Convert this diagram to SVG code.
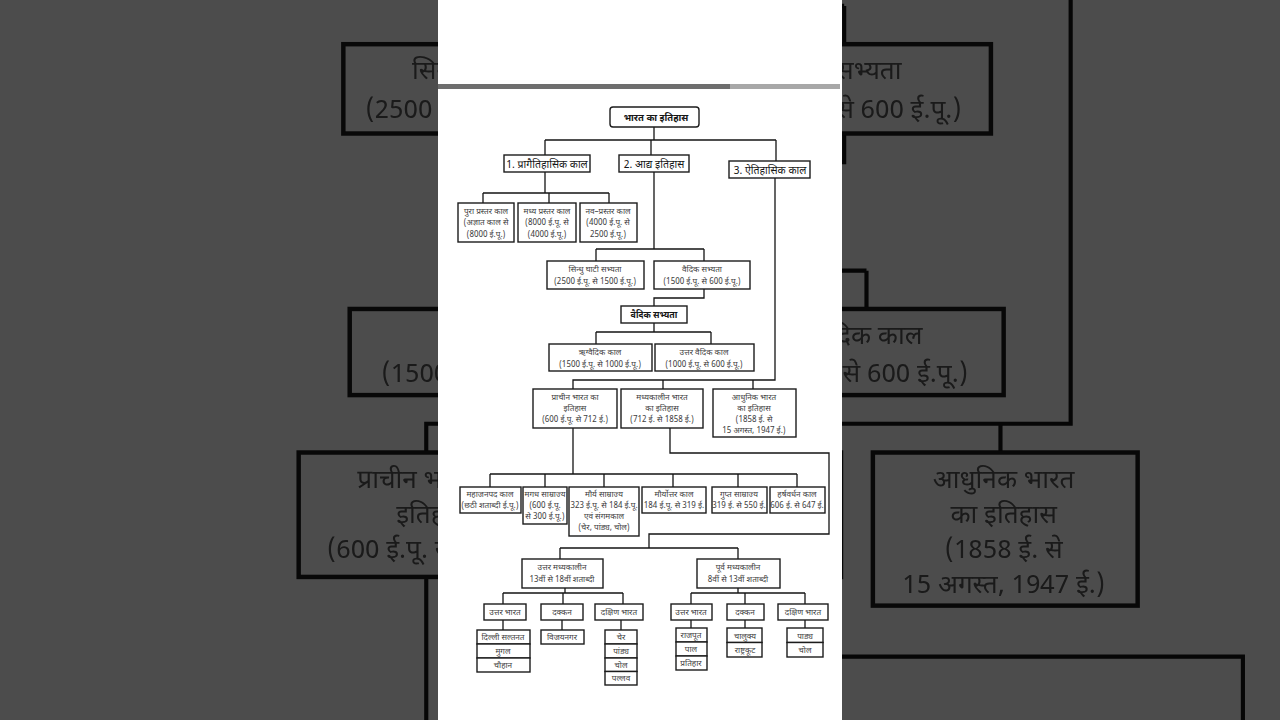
<svg xmlns="http://www.w3.org/2000/svg" xmlns:xlink="http://www.w3.org/1999/xlink" width="1280" height="720" viewBox="0 0 1280 720">
<defs>
<style>
.b{fill:#fff;stroke:#1c1c1c;stroke-width:1.4}
.c{fill:none;stroke:#141414;stroke-width:1.3}
text{font-family:"Noto Sans Devanagari","Noto Sans","Lohit Devanagari","FreeSans",sans-serif;text-anchor:middle;fill:var(--tc,#3e3e3e);font-size:8.2px}
.h{font-size:10.5px;fill:var(--hc,#161616)}
.r{font-size:9.5px;font-weight:bold;fill:var(--hc,#161616)}
.m{font-size:8.8px;font-weight:bold;fill:var(--hc,#161616)}
</style>
<filter id="blur" x="-5%" y="-5%" width="110%" height="110%"><feGaussianBlur stdDeviation="0.25"/></filter>
</defs>
<rect x="0" y="0" width="1280" height="720" fill="#fff"/>
<g id="bg">
<use xlink:href="#diagram" href="#diagram" transform="matrix(3.19,0,0,3.19,-1401.6,-788.4)" filter="url(#blur)" style="--tc:#585858;--hc:#3a3a3a"/>
<rect x="0" y="0" width="1280" height="720" fill="#000" opacity="0.7"/>
</g>
<rect x="438" y="0" width="404" height="720" fill="#fff"/>
<rect x="438" y="84" width="292" height="5" fill="#6e6e6e"/>
<rect x="730" y="84" width="110" height="5" fill="#a8a8a8"/>
<g id="diagram">
<g id="connectors">
<path class="c" d="M654,127V140M545,140H776M545,140V155M651,140V155M776,140V161"/>
<path class="c" d="M545,172V193M483,193H609M483,193V203M549,193V203M609,193V203"/>
<path class="c" d="M654,172V249M596,249H704M596,249V261M704,249V261"/>
<path class="c" d="M704,289V298H654V306"/>
<path class="c" d="M654,323V332M596,332H711M596,332V344M711,332V344"/>
<path class="c" d="M775,178V380H573V389M663,380V389M753,380V389"/>
<path class="c" d="M573,428V474M490,474H797M490,474V487M545,474V487M604,474V487M673,474V487M738,474V487M797,474V487"/>
<path class="c" d="M670,428V453H829V534H649V548M560,548H738M560,548V559M738,548V559"/>
<path class="c" d="M565,588V593M503,593H623M503,593V604M563,593V604M623,593V604M503,620V630M562,620V630M621,620V630"/>
<path class="c" d="M738,588V593M691,593H805M691,593V604M745,593V604M805,593V604M691,620V628M745,620V628M805,620V628"/>
</g>
<g id="root"><rect class="b" x="610" y="107" width="89" height="20" rx="3"/><text class="r" x="656" y="121">भारत का इतिहास</text></g>
<g id="n1"><rect class="b" x="504" y="155" width="86" height="17"/><text class="h" x="547" y="167.5">1. प्रागैतिहासिक काल</text></g>
<g id="n2"><rect class="b" x="619" y="155" width="70" height="17"/><text class="h" x="654" y="167.5">2. आद्य इतिहास</text></g>
<g id="n3"><rect class="b" x="729" y="161" width="81" height="17"/><text class="h" x="770" y="173.5">3. ऐतिहासिक काल</text></g>
<g id="p1"><rect class="b" x="458" y="203" width="56" height="39"/><text x="486" y="214">पुरा प्रस्तर काल</text><text x="486" y="225">(अज्ञात काल से</text><text x="486" y="237">(8000 ई.पू.)</text></g>
<g id="p2"><rect class="b" x="518" y="203" width="58" height="39"/><text x="547" y="214">मध्य प्रस्तर काल</text><text x="547" y="225">(8000 ई.पू. से</text><text x="547" y="237">(4000 ई.पू.)</text></g>
<g id="p3"><rect class="b" x="580" y="203" width="57" height="39"/><text x="608" y="214">नव–प्रस्तर काल</text><text x="608" y="225">(4000 ई.पू. से</text><text x="608" y="237">2500 ई.पू.)</text></g>
<g id="s1"><rect class="b" x="547" y="261" width="97" height="28"/><text x="595" y="272">सिन्धु घाटी सभ्यता</text><text x="595" y="284">(2500 ई.पू. से 1500 ई.पू.)</text></g>
<g id="s2"><rect class="b" x="654" y="261" width="96" height="28"/><text x="702" y="272">वैदिक सभ्यता</text><text x="702" y="284">(1500 ई.पू. से 600 ई.पू.)</text></g>
<g id="v"><rect class="b" x="621" y="306" width="66" height="17"/><text class="m" x="654" y="318">वैदिक सभ्यता</text></g>
<g id="r1"><rect class="b" x="549" y="344" width="103" height="27"/><text x="600" y="355">ऋग्वैदिक काल</text><text x="600" y="367">(1500 ई.पू. से 1000 ई.पू.)</text></g>
<g id="r2"><rect class="b" x="655" y="344" width="99" height="27"/><text x="704" y="355">उत्तर वैदिक काल</text><text x="704" y="367">(1000 ई.पू. से 600 ई.पू.)</text></g>
<g id="h1"><rect class="b" x="533" y="389" width="84" height="39"/><text x="575" y="400">प्राचीन भारत का</text><text x="575" y="411">इतिहास</text><text x="575" y="422">(600 ई.पू. से 712 ई.)</text></g>
<g id="h2"><rect class="b" x="621" y="389" width="82" height="39"/><text x="662" y="400">मध्यकालीन भारत</text><text x="662" y="411">का इतिहास</text><text x="662" y="422">(712 ई. से 1858 ई.)</text></g>
<g id="h3"><rect class="b" x="713" y="389" width="83" height="48"/><text x="754" y="400">आधुनिक भारत</text><text x="754" y="411">का इतिहास</text><text x="754" y="422">(1858 ई. से</text><text x="754" y="433">15 अगस्त, 1947 ई.)</text></g>
<g id="a1"><rect class="b" x="460" y="487" width="61" height="26"/><text x="490" y="497">महाजनपद काल</text><text x="490" y="508">(छठी शताब्दी ई.पू.)</text></g>
<g id="a2"><rect class="b" x="523" y="487" width="44" height="37"/><text x="545" y="497">मगध साम्राज्य</text><text x="545" y="508">(600 ई.पू.</text><text x="545" y="519">से 300 ई.पू.)</text></g>
<g id="a3"><rect class="b" x="569" y="487" width="70" height="49"/><text x="604" y="497">मौर्य साम्राज्य</text><text x="604" y="508">323 ई.पू. से 184 ई.पू.</text><text x="604" y="519">एवं संगमकाल</text><text x="604" y="530">(चेर, पांड्य, चोल)</text></g>
<g id="a4"><rect class="b" x="642" y="487" width="64" height="26"/><text x="674" y="497">मौर्योत्तर काल</text><text x="674" y="508">184 ई.पू. से 319 ई.</text></g>
<g id="a5"><rect class="b" x="712" y="487" width="55" height="26"/><text x="739" y="497">गुप्त साम्राज्य</text><text x="739" y="508">319 ई. से 550 ई.</text></g>
<g id="a6"><rect class="b" x="770" y="487" width="55" height="26"/><text x="797" y="497">हर्षवर्धन काल</text><text x="797" y="508">606 ई. से 647 ई.</text></g>
<g id="m1"><rect class="b" x="522" y="559" width="81" height="29"/><text x="562" y="570">उत्तर मध्यकालीन</text><text x="562" y="582">13वीं से 18वीं शताब्दी</text></g>
<g id="m2"><rect class="b" x="697" y="559" width="83" height="29"/><text x="738" y="570">पूर्व मध्यकालीन</text><text x="738" y="582">8वीं से 13वीं शताब्दी</text></g>
<g id="u1"><rect class="b" x="484" y="604" width="42" height="16"/><text x="505" y="615">उत्तर भारत</text></g>
<g id="u2"><rect class="b" x="541" y="604" width="42" height="16"/><text x="562" y="615">दक्कन</text></g>
<g id="u3"><rect class="b" x="595" y="604" width="48" height="16"/><text x="619" y="615">दक्षिण भारत</text></g>
<g id="u1s"><rect class="b" x="477" y="630" width="53" height="14"/><rect class="b" x="477" y="644" width="53" height="14"/><rect class="b" x="477" y="658" width="53" height="14"/><text x="503" y="640">दिल्ली सल्तनत</text><text x="503" y="654">मुगल</text><text x="503" y="668">चौहान</text></g>
<g id="u2s"><rect class="b" x="541" y="630" width="43" height="14"/><text x="562" y="640">विजयनगर</text></g>
<g id="u3s"><rect class="b" x="605" y="630" width="32" height="14"/><rect class="b" x="605" y="644" width="32" height="14"/><rect class="b" x="605" y="658" width="32" height="13.5"/><rect class="b" x="605" y="671.5" width="32" height="13.5"/><text x="621" y="640">चेर</text><text x="621" y="654">पांड्य</text><text x="621" y="668">चोल</text><text x="621" y="681">पल्लव</text></g>
<g id="e1"><rect class="b" x="671" y="604" width="41" height="16"/><text x="691" y="615">उत्तर भारत</text></g>
<g id="e2"><rect class="b" x="727" y="604" width="37" height="16"/><text x="745" y="615">दक्कन</text></g>
<g id="e3"><rect class="b" x="778" y="604" width="50" height="16"/><text x="803" y="615">दक्षिण भारत</text></g>
<g id="e1s"><rect class="b" x="676" y="628" width="31" height="14"/><rect class="b" x="676" y="642" width="31" height="14"/><rect class="b" x="676" y="656" width="31" height="14"/><text x="691" y="638">राजपूत</text><text x="691" y="652">पाल</text><text x="691" y="666">प्रतिहार</text></g>
<g id="e2s"><rect class="b" x="727" y="628" width="35" height="14.5"/><rect class="b" x="727" y="642.5" width="35" height="14.5"/><text x="745" y="638.5">चालुक्य</text><text x="745" y="653">राष्ट्रकूट</text></g>
<g id="e3s"><rect class="b" x="787" y="628" width="36" height="14.5"/><rect class="b" x="787" y="642.5" width="36" height="14.5"/><text x="805" y="638.5">पाड्य</text><text x="805" y="653">चोल</text></g>
</g>
</svg>
